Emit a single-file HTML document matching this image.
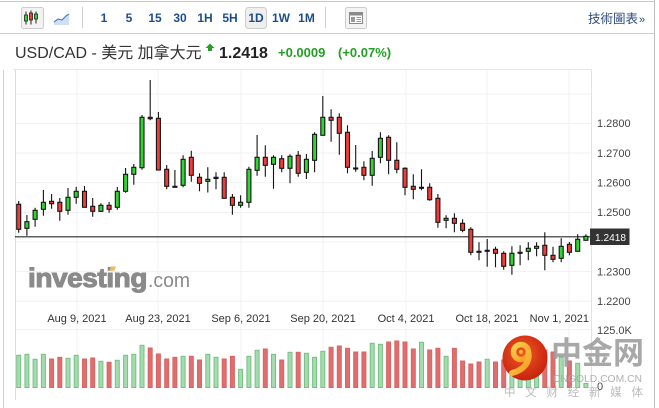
<!DOCTYPE html>
<html><head><meta charset="utf-8">
<style>
html,body{margin:0;padding:0;background:#fff;}
body{width:659px;height:408px;overflow:hidden;}
svg{display:block;}
text{font-family:"Liberation Sans","Noto Sans CJK SC",sans-serif;}
.tb{font-size:12px;font-weight:bold;fill:#1d4d8c;text-anchor:middle;}
.pl{font-size:11px;fill:#444;}
.dl{font-size:11px;fill:#333;text-anchor:middle;}
.cr{fill:#f23a3a;}
.cg{fill:#2fd62f;}
.vg{fill:#a6dbb0;stroke:#74c283;}
.vr{fill:#e06e6e;stroke:#d86464;}
</style></head>
<body>
<svg width="659" height="408" viewBox="0 0 659 408" xmlns="http://www.w3.org/2000/svg">
<!-- frame -->
<line x1="0" y1="1.5" x2="655" y2="1.5" stroke="#c8c8c8"/>
<line x1="0" y1="33.5" x2="655" y2="33.5" stroke="#cfcfcf"/>
<line x1="654.5" y1="0" x2="654.5" y2="408" stroke="#bdbdbd"/>
<line x1="3.5" y1="70" x2="3.5" y2="408" stroke="#cfcfcf"/>

<!-- toolbar -->
<rect x="21.5" y="7.5" width="22" height="21" rx="2" fill="#f2f2f2" stroke="#cccccc"/>
<path d="M26 11.5V24.5M31 10.5V24.5M36 11.5V23.5" stroke="#222" stroke-width="1"/>
<rect x="24.5" y="15" width="3" height="6" fill="#2fd62f" stroke="#222" stroke-width="0.8"/>
<rect x="29.5" y="13" width="3" height="7" fill="#f23a3a" stroke="#222" stroke-width="0.8"/>
<rect x="34.5" y="14" width="3" height="5" fill="#2fd62f" stroke="#222" stroke-width="0.8"/>
<path d="M54 22L58 19L62 20L66 16L69 14V25H54Z" fill="#cfe0f2"/>
<path d="M54 22L58 19L62 20L66 16L69 14" fill="none" stroke="#4a80c8" stroke-width="1.2"/>
<line x1="82.5" y1="7" x2="82.5" y2="28" stroke="#cfcfcf"/>
<rect x="245.5" y="7.5" width="21" height="21" rx="3" fill="#efefef" stroke="#cccccc"/>
<text class="tb" x="104" y="22">1</text>
<text class="tb" x="129" y="22">5</text>
<text class="tb" x="155" y="22">15</text>
<text class="tb" x="180" y="22">30</text>
<text class="tb" x="205" y="22">1H</text>
<text class="tb" x="230" y="22">5H</text>
<text class="tb" x="256" y="22">1D</text>
<text class="tb" x="281" y="22">1W</text>
<text class="tb" x="306.5" y="22">1M</text>
<line x1="325.5" y1="7" x2="325.5" y2="28" stroke="#cfcfcf"/>
<rect x="345.5" y="7.5" width="21" height="21" rx="2" fill="#f3f3f3" stroke="#cccccc"/>
<rect x="349.5" y="12.5" width="13" height="11" fill="#fff" stroke="#8a8a8a"/>
<rect x="349.5" y="12.5" width="13" height="3" fill="#8a8a8a"/>
<rect x="351" y="17" width="4" height="5" fill="#9a9a9a"/>
<path d="M356.5 17.5H361M356.5 19.5H361M356.5 21.5H361" stroke="#9a9a9a"/>
<text x="588" y="23" style="font-family:'Liberation Sans','Noto Sans CJK TC',sans-serif;font-size:12.5px;fill:#2b4a7a;">技術圖表</text>
<text x="639" y="23" style="font-size:11px;fill:#2b4a7a;">»</text>

<!-- title -->
<text x="15" y="58" style="font-size:16px;fill:#333;">USD/CAD - 美元 加拿大元</text>
<path d="M210 43.5L214.5 48H212V51H208V48H205.5Z" fill="#23a023"/>
<text x="219" y="58" style="font-size:16px;font-weight:bold;fill:#222;">1.2418</text>
<text x="278" y="57" style="font-size:13px;font-weight:bold;fill:#23a023;">+0.0009</text>
<text x="338" y="57" style="font-size:13px;font-weight:bold;fill:#23a023;">(+0.07%)</text>
<line x1="13" y1="69.5" x2="592" y2="69.5" stroke="#e6e6e6"/>

<!-- grid -->
<g stroke="#f1f1f4" stroke-width="1">
<path d="M16 94H591M16 123.5H591M16 153H591M16 182.8H591M16 212.4H591M16 242H591M16 271.6H591M16 301.3H591M16 329.5H591"/>
<path d="M77 70V388M158 70V388M241 70V388M323 70V388M406 70V388M487 70V388M569 70V388"/>
</g>
<line x1="15.5" y1="70" x2="15.5" y2="400" stroke="#dcdce6"/>
<line x1="591.5" y1="70" x2="591.5" y2="400" stroke="#e2e2e2"/>

<!-- investing logo -->
<text x="28" y="287" style="font-size:27px;font-weight:bold;fill:#8a8a8a;stroke:#8a8a8a;stroke-width:1.1px;letter-spacing:-0.4px;" textLength="119" lengthAdjust="spacingAndGlyphs">investing</text>
<text x="148" y="287" style="font-size:20px;fill:#8a8a8a;" textLength="42" lengthAdjust="spacingAndGlyphs">.com</text>
<path d="M111 266.5H116L114.5 270.5H109.5Z" fill="#f5b95a"/>

<!-- date labels -->
<text class="dl" x="77" y="322">Aug 9, 2021</text>
<text class="dl" x="158" y="322">Aug 23, 2021</text>
<text class="dl" x="241" y="322">Sep 6, 2021</text>
<text class="dl" x="323" y="322">Sep 20, 2021</text>
<text class="dl" x="406" y="322">Oct 4, 2021</text>
<text class="dl" x="487" y="322">Oct 18, 2021</text>
<text x="589" y="322" style="font-size:11px;fill:#333;text-anchor:end;">Nov 1, 2021</text>

<!-- price axis -->
<text class="pl" x="597" y="127">1.2800</text>
<text class="pl" x="597" y="157">1.2700</text>
<text class="pl" x="597" y="186.5">1.2600</text>
<text class="pl" x="597" y="216">1.2500</text>
<text class="pl" x="597" y="275.5">1.2300</text>
<text class="pl" x="597" y="305">1.2200</text>
<text class="pl" x="597" y="334">125.0K</text>
<text class="pl" x="597" y="390">0</text>

<!-- volume -->
<g stroke-width="1">
<rect class="vg" x="16.7" y="355.3" width="4" height="32.2"/>
<rect class="vg" x="24.9" y="354.3" width="4" height="33.2"/>
<rect class="vg" x="33.1" y="359.3" width="4" height="28.2"/>
<rect class="vg" x="41.4" y="354.3" width="4" height="33.2"/>
<rect class="vr" x="49.6" y="359" width="4" height="28.5"/>
<rect class="vr" x="57.8" y="357.3" width="4" height="30.2"/>
<rect class="vg" x="66" y="358.3" width="4" height="29.2"/>
<rect class="vg" x="74.2" y="355.3" width="4" height="32.2"/>
<rect class="vr" x="82.5" y="359" width="4" height="28.5"/>
<rect class="vr" x="90.7" y="358" width="4" height="29.5"/>
<rect class="vg" x="98.9" y="361.3" width="4" height="26.2"/>
<rect class="vr" x="107.1" y="362.3" width="4" height="25.2"/>
<rect class="vg" x="115.3" y="360.3" width="4" height="27.2"/>
<rect class="vg" x="123.6" y="355.3" width="4" height="32.2"/>
<rect class="vg" x="131.8" y="354.3" width="4" height="33.2"/>
<rect class="vg" x="140" y="345.3" width="4" height="42.2"/>
<rect class="vr" x="148.2" y="348" width="4" height="39.5"/>
<rect class="vr" x="156.4" y="354" width="4" height="33.5"/>
<rect class="vr" x="164.7" y="359" width="4" height="28.5"/>
<rect class="vr" x="172.9" y="357.3" width="4" height="30.2"/>
<rect class="vg" x="181.1" y="356.3" width="4" height="31.2"/>
<rect class="vr" x="189.3" y="356.3" width="4" height="31.2"/>
<rect class="vr" x="197.5" y="360" width="4" height="27.5"/>
<rect class="vg" x="205.8" y="354.3" width="4" height="33.2"/>
<rect class="vg" x="214" y="357.3" width="4" height="30.2"/>
<rect class="vr" x="222.2" y="359" width="4" height="28.5"/>
<rect class="vr" x="230.4" y="356.3" width="4" height="31.2"/>
<rect class="vg" x="238.6" y="369.3" width="4" height="18.2"/>
<rect class="vg" x="246.9" y="356.3" width="4" height="31.2"/>
<rect class="vg" x="255.1" y="350.3" width="4" height="37.2"/>
<rect class="vr" x="263.3" y="349" width="4" height="38.5"/>
<rect class="vg" x="271.5" y="354.3" width="4" height="33.2"/>
<rect class="vr" x="279.7" y="360" width="4" height="27.5"/>
<rect class="vg" x="288" y="352.3" width="4" height="35.2"/>
<rect class="vr" x="296.2" y="352.3" width="4" height="35.2"/>
<rect class="vg" x="304.4" y="353.3" width="4" height="34.2"/>
<rect class="vg" x="312.6" y="357.3" width="4" height="30.2"/>
<rect class="vg" x="320.8" y="351.3" width="4" height="36.2"/>
<rect class="vr" x="329.1" y="347.3" width="4" height="40.2"/>
<rect class="vr" x="337.3" y="346" width="4" height="41.5"/>
<rect class="vr" x="345.5" y="348.3" width="4" height="39.2"/>
<rect class="vr" x="353.7" y="352" width="4" height="35.5"/>
<rect class="vr" x="361.9" y="352" width="4" height="35.5"/>
<rect class="vg" x="370.2" y="343.3" width="4" height="44.2"/>
<rect class="vg" x="378.4" y="344.3" width="4" height="43.2"/>
<rect class="vr" x="386.6" y="342" width="4" height="45.5"/>
<rect class="vr" x="394.8" y="341" width="4" height="46.5"/>
<rect class="vr" x="403" y="342" width="4" height="45.5"/>
<rect class="vr" x="411.3" y="349" width="4" height="38.5"/>
<rect class="vg" x="419.5" y="342.3" width="4" height="45.2"/>
<rect class="vr" x="427.7" y="350" width="4" height="37.5"/>
<rect class="vr" x="435.9" y="348.3" width="4" height="39.2"/>
<rect class="vg" x="444.1" y="356.3" width="4" height="31.2"/>
<rect class="vr" x="452.4" y="348.3" width="4" height="39.2"/>
<rect class="vr" x="460.6" y="361" width="4" height="26.5"/>
<rect class="vr" x="468.8" y="364" width="4" height="23.5"/>
<rect class="vr" x="477" y="362" width="4" height="25.5"/>
<rect class="vg" x="485.2" y="359.3" width="4" height="28.2"/>
<rect class="vr" x="493.5" y="362" width="4" height="25.5"/>
<rect class="vr" x="501.7" y="360" width="4" height="27.5"/>
<rect class="vg" x="509.9" y="360" width="4" height="27.5"/>
<rect class="vg" x="518.1" y="362" width="4" height="25.5"/>
<rect class="vg" x="526.3" y="360" width="4" height="27.5"/>
<rect class="vg" x="534.6" y="358" width="4" height="29.5"/>
<rect class="vr" x="542.8" y="350" width="4" height="37.5"/>
<rect class="vr" x="551" y="352" width="4" height="35.5"/>
<rect class="vg" x="559.2" y="357.3" width="4" height="30.2"/>
<rect class="vr" x="567.4" y="361" width="4" height="26.5"/>
<rect class="vg" x="575.7" y="363.3" width="4" height="24.2"/>
<rect class="vg" x="583.9" y="383.5" width="4" height="4"/>
</g>

<!-- current price line -->
<line x1="15" y1="236.8" x2="591" y2="236.8" stroke="#2a2a2a" stroke-width="1.1"/>

<!-- candles -->
<path stroke="#141414" stroke-width="1.1" fill="none" d="M18.7 201V232.7M26.9 215V235.7M35.1 207.7V226.7M43.4 190V215.7M51.6 194V208.7M59.8 198V220.7M68 188V214.7M76.2 186.7V203.7M84.5 186V207.3M92.7 198V216.7M100.9 203.3V212M109.1 202V212.7M117.3 187V209.7M125.6 168V192.7M133.8 164V184.7M142 115V169.7M150.2 80V120.3M158.4 112V170M166.7 165V189.3M174.9 170V187.3M183.1 155.3V187.3M191.3 150.7V181.7M199.5 173.3V191.3M207.8 167.3V192.5M216 172.3V189.3M224.2 172.3V198.3M232.4 194V214.7M240.6 195.3V207.7M248.9 166.7V207.7M257.1 135V175.7M265.3 145.3V176.7M273.5 155.3V188.7M281.7 155.3V172.3M290 154.3V183.3M298.2 151V176.7M306.4 154V179M314.6 132.3V172.3M322.8 96V135.3M331.1 109.3V141.7M339.3 113.3V154.7M347.5 125.3V173.3M355.7 145V171.7M363.9 161.3V180.3M372.2 151V185.7M380.4 132.3V163.3M388.6 135.3V174.3M396.8 142.3V173.3M405 167.3V195.3M413.3 174.3V199.3M421.5 169.3V190.3M429.7 183.3V200.7M437.9 194V227.7M446.1 215.3V228.3M454.4 213.3V232.3M462.6 219.3V232.3M470.8 227.3V255.3M479 242.3V260.3M487.2 239V266.7M495.5 246.7V267.3M503.7 251.3V269.7M511.9 246.3V274.7M520.1 245.3V265.3M528.3 242.3V260.3M536.6 242.3V256.3M544.8 232.3V270.3M553 246.7V262.3M561.2 238.3V262.3M569.4 242V255.3M577.7 234.3V251.3M585.9 234.3V240.3"/>
<g stroke="#141414" stroke-width="1.1">
<rect class="cr" x="16.7" y="204.3" width="4" height="25"/>
<rect class="cg" x="24.9" y="221.7" width="4" height="6.6"/>
<rect class="cg" x="33.1" y="210.3" width="4" height="9"/>
<rect class="cg" x="41.4" y="202.3" width="4" height="7"/>
<rect class="cr" x="49.6" y="201.3" width="4" height="2.4"/>
<rect class="cr" x="57.8" y="202.3" width="4" height="9"/>
<rect class="cg" x="66" y="197.3" width="4" height="13"/>
<rect class="cg" x="74.2" y="191.3" width="4" height="6"/>
<rect class="cr" x="82.5" y="191.3" width="4" height="16"/>
<rect class="cr" x="90.7" y="206.3" width="4" height="5"/>
<rect class="cg" x="98.9" y="205.3" width="4" height="6"/>
<rect class="cr" x="107.1" y="205.3" width="4" height="4"/>
<rect class="cg" x="115.3" y="191.3" width="4" height="16"/>
<rect class="cg" x="123.6" y="174.3" width="4" height="17"/>
<rect class="cg" x="131.8" y="167.3" width="4" height="7"/>
<rect class="cg" x="140" y="117.3" width="4" height="50.4"/>
<rect class="cr" x="148.2" y="117.3" width="4" height="1.4"/>
<rect class="cr" x="156.4" y="118.3" width="4" height="51.7"/>
<rect class="cr" x="164.7" y="169.3" width="4" height="17"/>
<rect class="cr" x="172.9" y="186.3" width="4" height="1"/>
<rect class="cg" x="181.1" y="159.3" width="4" height="26"/>
<rect class="cr" x="189.3" y="157.3" width="4" height="18"/>
<rect class="cr" x="197.5" y="177.3" width="4" height="6"/>
<rect class="cg" x="205.8" y="179.3" width="4" height="2"/>
<rect class="cg" x="214" y="177.3" width="4" height="1.2"/>
<rect class="cr" x="222.2" y="177.3" width="4" height="21"/>
<rect class="cr" x="230.4" y="197.3" width="4" height="8"/>
<rect class="cg" x="238.6" y="202.3" width="4" height="3"/>
<rect class="cg" x="246.9" y="169.3" width="4" height="33"/>
<rect class="cg" x="255.1" y="157.3" width="4" height="13"/>
<rect class="cr" x="263.3" y="157.3" width="4" height="8"/>
<rect class="cg" x="271.5" y="157.3" width="4" height="7"/>
<rect class="cr" x="279.7" y="158.7" width="4" height="9.6"/>
<rect class="cg" x="288" y="156.3" width="4" height="12"/>
<rect class="cr" x="296.2" y="155.3" width="4" height="18"/>
<rect class="cg" x="304.4" y="159.3" width="4" height="13"/>
<rect class="cg" x="312.6" y="134.3" width="4" height="26"/>
<rect class="cg" x="320.8" y="117.3" width="4" height="18"/>
<rect class="cr" x="329.1" y="117.3" width="4" height="3"/>
<rect class="cr" x="337.3" y="117.3" width="4" height="16"/>
<rect class="cr" x="345.5" y="132.3" width="4" height="35"/>
<rect class="cr" x="353.7" y="168" width="4" height="1"/>
<rect class="cr" x="361.9" y="167.3" width="4" height="8"/>
<rect class="cg" x="370.2" y="158.3" width="4" height="17"/>
<rect class="cg" x="378.4" y="138.3" width="4" height="19"/>
<rect class="cr" x="386.6" y="137.3" width="4" height="23"/>
<rect class="cr" x="394.8" y="160.3" width="4" height="9"/>
<rect class="cr" x="403" y="168.3" width="4" height="19"/>
<rect class="cr" x="411.3" y="186.3" width="4" height="3"/>
<rect class="cg" x="419.5" y="187.3" width="4" height="1"/>
<rect class="cr" x="427.7" y="187.3" width="4" height="12.4"/>
<rect class="cr" x="435.9" y="198.3" width="4" height="24"/>
<rect class="cg" x="444.1" y="218.3" width="4" height="2"/>
<rect class="cr" x="452.4" y="218.3" width="4" height="5"/>
<rect class="cr" x="460.6" y="223.3" width="4" height="7"/>
<rect class="cr" x="468.8" y="229.3" width="4" height="23"/>
<rect class="cr" x="477" y="251.3" width="4" height="1"/>
<rect class="cg" x="485.2" y="250.3" width="4" height="1"/>
<rect class="cr" x="493.5" y="249.3" width="4" height="4"/>
<rect class="cr" x="501.7" y="253.3" width="4" height="13"/>
<rect class="cg" x="509.9" y="253.3" width="4" height="12"/>
<rect class="cg" x="518.1" y="252.3" width="4" height="1"/>
<rect class="cg" x="526.3" y="248.3" width="4" height="3"/>
<rect class="cg" x="534.6" y="246.3" width="4" height="2"/>
<rect class="cr" x="542.8" y="245.3" width="4" height="10"/>
<rect class="cr" x="551" y="255.3" width="4" height="4"/>
<rect class="cg" x="559.2" y="246.3" width="4" height="12"/>
<rect class="cr" x="567.4" y="244.3" width="4" height="8"/>
<rect class="cg" x="575.7" y="239.3" width="4" height="12"/>
<rect class="cg" x="583.9" y="236.3" width="4" height="4"/>
</g>

<!-- price box -->
<rect x="590" y="228.5" width="39.5" height="16.5" fill="#333333"/>
<text x="595" y="241" style="font-size:10.5px;fill:#fff;" textLength="31" lengthAdjust="spacingAndGlyphs">1.2418</text>

<!-- watermark -->
<defs>
<radialGradient id="rg" cx="0.45" cy="0.4" r="0.6">
<stop offset="0" stop-color="#ee5a22"/>
<stop offset="1" stop-color="#c8220f"/>
</radialGradient>
<linearGradient id="yg" x1="0" y1="0" x2="1" y2="1">
<stop offset="0" stop-color="#fbd04a"/>
<stop offset="1" stop-color="#f49a22"/>
</linearGradient>
</defs>
<circle cx="525" cy="358" r="22.5" fill="url(#rg)"/>
<circle cx="521" cy="352" r="7.5" fill="none" stroke="url(#yg)" stroke-width="5.5"/>
<path d="M528.5 353C530 362 524 370 512 373" fill="none" stroke="url(#yg)" stroke-width="6" stroke-linecap="round"/>
<circle cx="521" cy="352" r="2" fill="url(#yg)"/>
<text x="551" y="364" style="font-family:'Noto Sans CJK SC','WenQuanYi Zen Hei',sans-serif;font-size:31px;font-weight:bold;fill:#9c9c9c;fill-opacity:0.88;" textLength="93">中金网</text>
<text x="553" y="382" style="font-size:10.5px;fill:#a8a8a8;fill-opacity:0.9;" textLength="89" lengthAdjust="spacingAndGlyphs">CNGOLD.COM.CN</text>
<text x="504" y="396" style="font-family:'Noto Sans CJK SC','WenQuanYi Zen Hei',sans-serif;font-size:11.5px;fill:#b4b4b4;fill-opacity:0.9;" textLength="139">中文财经新媒体</text>
</svg>
</body></html>
